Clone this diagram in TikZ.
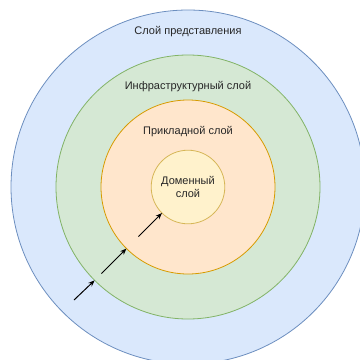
\documentclass[tikz,border=0pt]{standalone}
\usepackage{fontspec}
\setmainfont{Liberation Sans}
\usetikzlibrary{arrows.meta}
\definecolor{bluefill}{HTML}{DAE8FC}\definecolor{bluedraw}{HTML}{6C8EBF}
\definecolor{greenfill}{HTML}{D5E8D4}\definecolor{greendraw}{HTML}{82B366}
\definecolor{orangefill}{HTML}{FFE6CC}\definecolor{orangedraw}{HTML}{D79B00}
\definecolor{yellowfill}{HTML}{FFF2CC}\definecolor{yellowdraw}{HTML}{D6B656}
\tikzset{
  layer/.style={circle, inner sep=0pt, outer sep=0pt, line width=0.8pt},
  lbl/.style={font=\fontsize{11}{13}\selectfont, text=black!85, align=center, inner sep=0pt},
  arr/.style={line width=1pt, -{Stealth[length=6.5pt,width=5pt]}}
}
\begin{document}
\begin{tikzpicture}[x=1pt,y=-1pt]
\useasboundingbox (0,0) rectangle (360,360);
\begin{scope}
\clip (0,0) rectangle (360,360);
\node[layer, fill=bluefill, draw=bluedraw, minimum size=354pt] (pres) at (188,187) {};
\end{scope}
\node[layer, fill=greenfill, draw=greendraw, minimum size=264pt] (infra) at (188,187) {};
\node[layer, fill=orangefill, draw=orangedraw, minimum size=174pt] (app) at (188,187) {};
\node[layer, fill=yellowfill, draw=yellowdraw, minimum size=73.6pt] (dom) at (188,187) {};
\node[lbl] (t1) at (188,32) {Слой представления};
\node[lbl] (t2) at (188,87) {Инфраструктурный слой};
\node[lbl] (t3) at (188,132) {Прикладной слой};
\node[lbl] (t4) at (188,187) {Доменный\\слой};
\coordinate (a1) at (74,300);
\coordinate (a2) at (101.5,273.5);
\coordinate (a3) at (138.5,236.5);
\draw[arr] (a1) -- (infra.225);
\draw[arr] (a2) -- (app.225);
\draw[arr] (a3) -- (dom.225);
\end{tikzpicture}
\end{document}
